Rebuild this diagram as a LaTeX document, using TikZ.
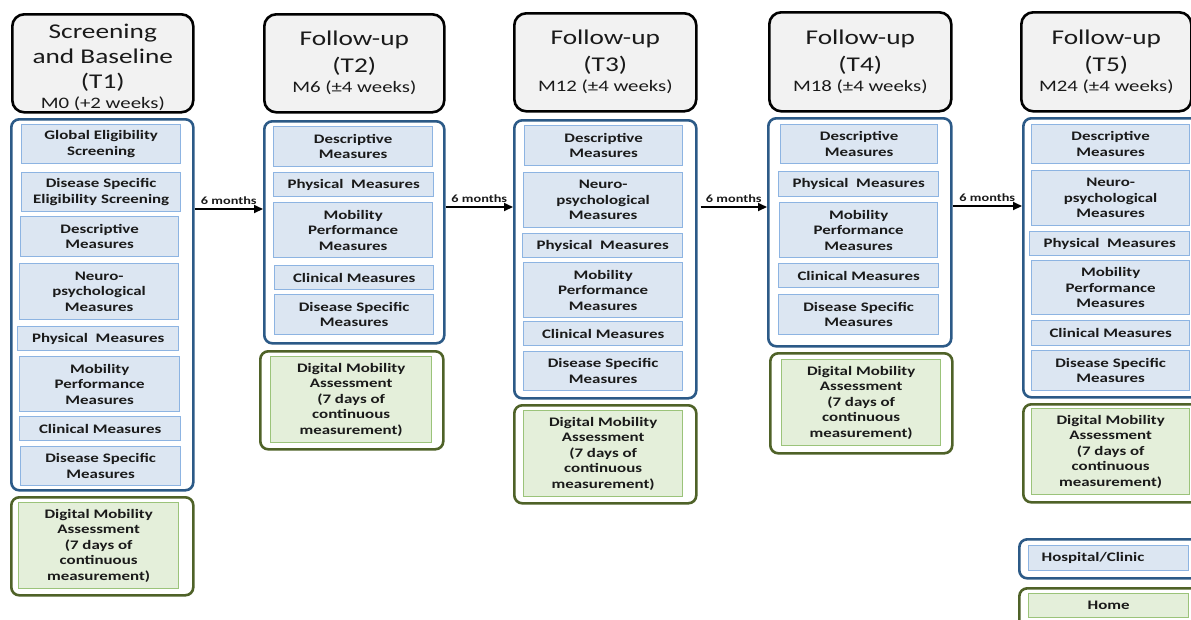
\documentclass[tikz,border=0pt]{standalone}
\usepackage{fontspec}
\setmainfont{Carlito}[FakeStretch=1.3]
\usetikzlibrary{arrows.meta}

\definecolor{headgray}{HTML}{F2F2F2}
\definecolor{hospblue}{HTML}{2C5A87}
\definecolor{measfill}{HTML}{DCE6F2}
\definecolor{measedge}{HTML}{8DB4E2}
\definecolor{homegreen}{HTML}{4F6228}
\definecolor{dmafill}{HTML}{E4EFDA}
\definecolor{dmaedge}{HTML}{9BC37A}
\definecolor{txt}{HTML}{1A1A1A}

% #1 style, #2 name, #3 x, #4 y (top left), #5 width, #6 height, #7 text
\newcommand{\boxat}[7]{\node[#1,minimum width=#5pt,minimum height=#6pt] (#2) at (#3,#4) {#7};}
% smaller last line of a header: the visit window
\newcommand{\window}[1]{{\fontsize{16}{19}\selectfont #1}}

\tikzset{
  head/.style={draw=black, line width=2.6pt, rounded corners=12pt, fill=headgray,
    anchor=north west, inner sep=0pt, align=center, text=txt,
    font=\fontsize{21}{27}\selectfont},
  hosp/.style={draw=hospblue, line width=2.6pt, rounded corners=8pt, fill=white,
    anchor=north west, inner sep=0pt},
  home/.style={draw=homegreen, line width=2.6pt, rounded corners=8pt, fill=white,
    anchor=north west, inner sep=0pt},
  meas/.style={draw=measedge, line width=1.3pt, fill=measfill, anchor=north west,
    inner sep=0pt, align=center, text=txt, font=\bfseries\fontsize{13}{15.5}\selectfont},
  dma/.style={meas, draw=dmaedge, fill=dmafill},
  arr/.style={-{Triangle[length=9pt,width=8pt]}, line width=2pt, black},
  gap/.style={font=\bfseries\fontsize{11}{13}\selectfont, text=txt, inner sep=0pt, anchor=south}
}

\newcommand{\dmatext}{Digital Mobility\\Assessment\\(7 days of\\continuous\\measurement)}

\begin{document}
\begin{tikzpicture}[x=1pt, y=-1pt]
\useasboundingbox (0,0) rectangle (1191,619);
\clip (0,0) rectangle (1191,619);

% ---------- T1: screening and baseline ----------
\boxat{head, font=\fontsize{21}{25}\selectfont}{h1}{11}{13}{181}{98}{\rule{0pt}{22pt}Screening\\and Baseline\\(T1)\\[-5pt]\window{M0 (+2 weeks)}}
\boxat{hosp}{o1}{10}{118}{182}{371}{}
\boxat{meas}{t1a}{21}{124}{159}{39}{Global Eligibility\\Screening}
\boxat{meas}{t1b}{21}{172}{159}{39}{Disease Specific\\Eligibility Screening}
\boxat{meas}{t1c}{20}{216}{158}{40}{Descriptive\\Measures}
\boxat{meas}{t1d}{19}{263}{159}{56}{Neuro-\\psychological\\Measures}
\boxat{meas}{t1e}{17}{326}{161}{24}{Physical\ \ Measures}
\boxat{meas}{t1f}{19}{356}{160}{55}{Mobility\\Performance\\Measures}
\boxat{meas}{t1g}{19}{416}{161}{24}{Clinical Measures}
\boxat{meas}{t1h}{20}{446}{160}{39}{Disease Specific\\Measures}
\boxat{home}{g1}{10}{496}{182}{98}{}
\boxat{dma}{d1}{18}{502}{160}{86}{\dmatext}

% ---------- T2: month 6 ----------
\boxat{head}{h2}{263}{13}{180}{98}{Follow-up\\(T2)\\[-7pt]\window{M6 (±4 weeks)}}
\boxat{hosp}{o2}{263}{120}{180}{222}{}
\boxat{meas}{t2a}{273}{126}{159}{40}{Descriptive\\Measures}
\boxat{meas}{t2b}{273}{172}{160}{24}{Physical\ \ Measures}
\boxat{meas}{t2c}{273}{202}{159}{55}{Mobility\\Performance\\Measures}
\boxat{meas}{t2d}{274}{265}{159}{24}{Clinical Measures}
\boxat{meas}{t2e}{274}{294}{159}{40}{Disease Specific\\Measures}
\boxat{home}{g2}{259}{350}{183}{98}{}
\boxat{dma}{d2}{270}{356}{161}{86}{\dmatext}

% ---------- T3: month 12 ----------
\boxat{head}{h3}{513}{12}{182}{98}{Follow-up\\(T3)\\[-7pt]\window{M12 (±4 weeks)}}
\boxat{hosp}{o3}{513}{119}{182}{278}{}
\boxat{meas}{t3a}{524}{125}{158}{40}{Descriptive\\Measures}
\boxat{meas}{t3b}{523}{172}{159}{55}{Neuro-\\psychological\\Measures}
\boxat{meas}{t3c}{522}{233}{160}{24}{Physical\ \ Measures}
\boxat{meas}{t3d}{523}{262}{159}{55}{Mobility\\Performance\\Measures}
\boxat{meas}{t3e}{523}{321}{159}{24}{Clinical Measures}
\boxat{meas}{t3f}{523}{351}{159}{39}{Disease Specific\\Measures}
\boxat{home}{g3}{513}{404}{182}{98}{}
\boxat{dma}{d3}{523}{410}{159}{86}{\dmatext}

% ---------- T4: month 18 ----------
\boxat{head}{h4}{768}{11}{182}{99}{Follow-up\\(T4)\\[-7pt]\window{M18 (±4 weeks)}}
\boxat{hosp}{o4}{767}{117}{183}{228}{}
\boxat{meas}{t4a}{780}{124}{157}{39}{Descriptive\\Measures}
\boxat{meas}{t4b}{778}{171}{160}{25}{Physical\ \ Measures}
\boxat{meas}{t4c}{779}{202}{158}{55}{Mobility\\Performance\\Measures}
\boxat{meas}{t4d}{778}{263}{160}{24}{Clinical Measures}
\boxat{meas}{t4e}{778}{294}{160}{40}{Disease Specific\\Measures}
\boxat{home}{g4}{769}{352}{182}{100}{}
\boxat{dma}{d4}{781}{359}{159}{86}{\dmatext}

% ---------- T5: month 24 ----------
\boxat{head}{h5}{1020}{11}{170}{99}{Follow-up\\(T5)\\[-7pt]\window{M24 (±4 weeks)}}
\boxat{hosp}{o5}{1022}{117}{182}{279}{}
\boxat{meas}{t5a}{1031}{124}{158}{39}{Descriptive\\Measures}
\boxat{meas}{t5b}{1031}{170}{158}{55}{Neuro-\\psychological\\Measures}
\boxat{meas}{t5c}{1029}{231}{160}{24}{Physical\ \ Measures}
\boxat{meas}{t5d}{1031}{260}{158}{54}{Mobility\\Performance\\Measures}
\boxat{meas}{t5e}{1031}{320}{158}{25}{Clinical Measures}
\boxat{meas}{t5f}{1031}{350}{158}{40}{Disease Specific\\Measures}
\boxat{home}{g5}{1022}{403}{182}{98}{}
\boxat{dma}{d5}{1031}{408}{158}{86}{\dmatext}

% ---------- legend ----------
\boxat{hosp}{lh}{1018}{538}{185}{39}{}
\node[meas, minimum width=160pt, minimum height=25pt, text width=134pt,
      inner xsep=13pt, align=left] (lhi) at (1028,545) {Hospital/Clinic};
\boxat{home}{lg}{1018}{587}{185}{40}{}
\boxat{dma}{lgi}{1028}{593}{160}{24}{Home}

% ---------- 6-month intervals ----------
\coordinate (y1) at (0,209);
\coordinate (y2) at (0,207);
\coordinate (y3) at (0,207);
\coordinate (y4) at (0,206);
\draw[arr] (o1.east |- y1) -- node[gap, above=3pt] {6 months} (o2.west |- y1);
\draw[arr] (o2.east |- y2) -- node[gap, above=3pt] {6 months} (o3.west |- y2);
\draw[arr] ([xshift=3pt]o3.east |- y3) -- node[gap, above=3pt] {6 months} (o4.west |- y3);
\draw[arr] (o4.east |- y4) -- node[gap, above=3pt] {6 months} (o5.west |- y4);
\end{tikzpicture}
\end{document}
